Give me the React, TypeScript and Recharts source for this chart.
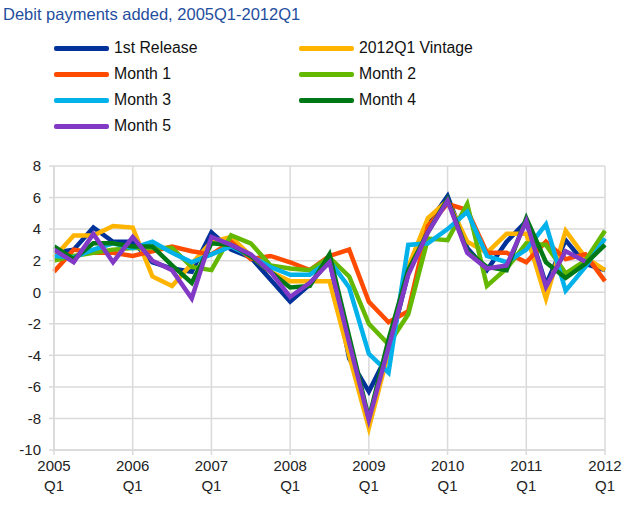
import React from 'react';
import { LineChart, Line, XAxis, YAxis, CartesianGrid } from 'recharts';

// quarters 2005Q1 .. 2012Q1
const quarters = [
  '2005Q1', '2005Q2', '2005Q3', '2005Q4',
  '2006Q1', '2006Q2', '2006Q3', '2006Q4',
  '2007Q1', '2007Q2', '2007Q3', '2007Q4',
  '2008Q1', '2008Q2', '2008Q3', '2008Q4',
  '2009Q1', '2009Q2', '2009Q3', '2009Q4',
  '2010Q1', '2010Q2', '2010Q3', '2010Q4',
  '2011Q1', '2011Q2', '2011Q3', '2011Q4',
  '2012Q1',
];
const yearTicks = ['2005Q1', '2006Q1', '2007Q1', '2008Q1', '2009Q1', '2010Q1', '2011Q1', '2012Q1'];
const yTicks = [-10, -8, -6, -4, -2, 0, 2, 4, 6, 8];

const firstRelease = [2.5, 2.7, 4.1, 3.2, 3.2, 1.9, 1.5, 1.3, 3.8, 2.7, 2.2, 0.8, -0.6, 0.5, 2.1, -4.2, -6.3, -3.8, 1.2, 4.3, 6.1, 2.8, 1.4, 3.2, 4.5, 0.5, 3.3, 1.8, 1.4];
const vintage2012 = [2.2, 3.6, 3.6, 4.2, 4.1, 1.0, 0.4, 1.8, 3.2, 3.5, 2.3, 1.3, 0.7, 0.7, 0.7, -4.0, -8.6, -3.8, 1.6, 4.7, 5.8, 3.2, 2.5, 3.7, 3.7, -0.4, 3.9, 2.2, 1.4];
const month1 = [1.3, 2.7, 2.5, 2.5, 2.3, 2.6, 2.9, 2.6, 2.4, 3.2, 2.1, 2.3, 1.9, 1.4, 2.3, 2.7, -0.6, -1.9, -1.2, 4.2, 5.6, 5.2, 2.5, 2.5, 1.9, 3.2, 2.1, 2.4, 0.7];
const month2 = [2.0, 2.3, 2.5, 2.7, 2.8, 2.8, 2.8, 1.6, 1.4, 3.6, 3.1, 1.7, 1.5, 1.4, 2.2, 1.0, -2.0, -3.3, -1.4, 3.4, 3.3, 5.6, 0.4, 1.5, 3.1, 3.0, 1.2, 2.0, 3.9];
const month3 = [2.3, 2.2, 2.7, 3.1, 2.8, 3.2, 2.5, 1.9, 2.4, 2.9, 2.3, 1.6, 1.1, 1.1, 2.0, 0.3, -3.9, -5.1, 3.0, 3.1, 4.0, 5.1, 2.3, 1.9, 2.7, 4.3, 0.1, 1.6, 3.4];
const month4 = [2.9, 2.1, 3.1, 3.1, 2.9, 2.9, 1.7, 0.6, 3.1, 3.0, 2.3, 1.3, 0.3, 0.4, 2.4, -2.8, -8.0, -3.0, 1.4, 3.8, 5.9, 2.6, 1.6, 1.4, 4.7, 1.9, 0.9, 1.8, 3.0];
const month5 = [2.7, 1.9, 3.7, 1.9, 3.5, 2.0, 1.4, -0.4, 3.5, 3.0, 2.4, 1.3, -0.3, 0.6, 1.9, -3.2, -8.1, -3.5, 1.1, 3.8, 5.8, 2.5, 1.5, 1.7, 4.5, 0.35, 2.6, 1.95, null];

const series = [
  { key: 'first', name: '1st Release', color: '#003299', values: firstRelease },
  { key: 'vintage', name: '2012Q1 Vintage', color: '#FFB400', values: vintage2012 },
  { key: 'm1', name: 'Month 1', color: '#FF4B00', values: month1 },
  { key: 'm2', name: 'Month 2', color: '#65B800', values: month2 },
  { key: 'm3', name: 'Month 3', color: '#00B1EA', values: month3 },
  { key: 'm4', name: 'Month 4', color: '#007816', values: month4 },
  { key: 'm5', name: 'Month 5', color: '#8139C6', values: month5 },
];

const data = quarters.map((q, i) => {
  const row: Record<string, any> = { q };
  series.forEach((s) => { row[s.key] = s.values[i]; });
  return row;
});

const font = '"Liberation Sans", Arial, sans-serif';

const YearTick = (props: any) => {
  const { x, y, payload } = props;
  const label = String(payload.value);
  return (
    <text x={x} y={y} textAnchor="middle" fontSize={15} fill="#222" fontFamily={font}>
      <tspan x={x} dy={14}>{label.slice(0, 4)}</tspan>
      <tspan x={x} dy={20}>{label.slice(4)}</tspan>
    </text>
  );
};

export default function App() {
  return (
    <div style={{ position: 'absolute', left: 0, top: 0, width: 640, height: 508, background: '#fff', fontFamily: font }}>
      <div style={{ position: 'absolute', left: 3, top: 5, fontSize: 16.5, color: '#1F4E9E' }}>
        Debit payments added, 2005Q1-2012Q1
      </div>
      {series.map((s, i) => (
        <div
          key={s.key}
          style={{
            position: 'absolute',
            left: i % 2 === 0 ? 54 : 299,
            top: 39 + Math.floor(i / 2) * 26,
            display: 'flex',
            alignItems: 'center',
            fontSize: 15.8,
            color: '#111',
          }}
        >
          <span style={{ display: 'inline-block', width: 55, height: 5, borderRadius: 2, background: s.color, marginRight: 5 }} />
          {s.name}
        </div>
      ))}
      <LineChart
        width={640}
        height={508}
        data={data}
        margin={{ top: 166, right: 35, bottom: 8, left: 14 }}
        style={{ position: 'absolute', left: 0, top: 0 }}
      >
        <CartesianGrid stroke="#DADADA" strokeWidth={1.5} />
        <XAxis
          dataKey="q"
          ticks={yearTicks}
          interval={0}
          height={50}
          tick={<YearTick />}
          tickSize={5}
          tickMargin={2}
          axisLine={{ stroke: '#DADADA', strokeWidth: 1.5 }}
          tickLine={{ stroke: '#DADADA', strokeWidth: 1.5 }}
        />
        <YAxis
          domain={[-10, 8]}
          ticks={yTicks}
          interval={0}
          width={40}
          tickSize={5}
          tickMargin={8}
          tick={{ fontSize: 15, fill: '#222', fontFamily: font }}
          axisLine={{ stroke: '#DADADA', strokeWidth: 1.5 }}
          tickLine={{ stroke: '#DADADA', strokeWidth: 1.5 }}
        />
        {series.map((s) => (
          <Line
            key={s.key}
            dataKey={s.key}
            name={s.name}
            stroke={s.color}
            strokeWidth={4.5}
            dot={false}
            type="linear"
            isAnimationActive={false}
            connectNulls={false}
          />
        ))}
      </LineChart>
    </div>
  );
}
